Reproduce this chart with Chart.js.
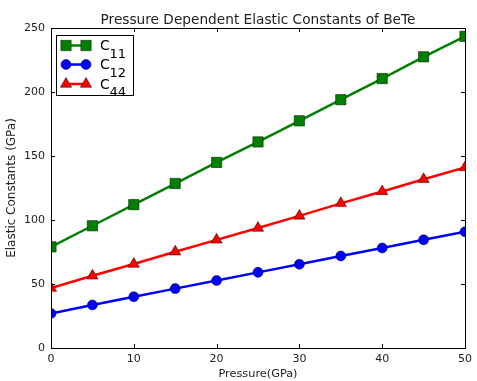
<!DOCTYPE html>
<html>
<head>
<meta charset="utf-8">
<script src="https://cdn.jsdelivr.net/npm/chart.js@4.4.1/dist/chart.umd.min.js"></script>
<style>
  html, body { margin: 0; padding: 0; background: #fff; }
  canvas { display: block; }
</style>
</head>
<body>
<canvas id="elasticChart" width="477" height="381"></canvas>
<script>
// данные
const pressure = [0, 5, 10, 15, 20, 25, 30, 35, 40, 45, 50];
const c11 = [79, 95.5, 112, 128.5, 145, 161, 177.5, 194, 210.5, 227.5, 243.5];
const c12 = [27, 33.6, 40.1, 46.4, 52.7, 59.1, 65.4, 71.9, 78.1, 84.5, 90.8];
const c44 = [46.8, 56.4, 65.6, 75.2, 84.5, 93.7, 103.2, 113, 122.3, 131.8, 141];
const xTicks = [0, 10, 20, 30, 40, 50];
const yTicks = [0, 50, 100, 150, 200, 250];
const seriesNames = ['11', '12', '44'];

const FONT = "'DejaVu Sans', sans-serif";

function toPoints(values) {
  return values.map((v, i) => ({ x: pressure[i], y: v }));
}

// рамка, тики внутрь, заголовок
const framePlugin = {
  id: 'frame',
  afterDraw(chart) {
    const { ctx, chartArea: a } = chart;
    const xs = chart.scales.x, ys = chart.scales.y;
    ctx.save();
    ctx.strokeStyle = '#000';
    ctx.lineWidth = 1;
    ctx.beginPath();
    xTicks.forEach(t => {
      const px = Math.round(xs.getPixelForValue(t)) + 0.5;
      ctx.moveTo(px, a.bottom); ctx.lineTo(px, a.bottom - 4);
      ctx.moveTo(px, a.top); ctx.lineTo(px, a.top + 4);
    });
    yTicks.forEach(t => {
      const py = Math.round(ys.getPixelForValue(t)) + 0.5;
      ctx.moveTo(a.left, py); ctx.lineTo(a.left + 4, py);
      ctx.moveTo(a.right, py); ctx.lineTo(a.right - 4, py);
    });
    ctx.stroke();
    ctx.strokeRect(Math.round(a.left) + 0.5, Math.round(a.top) + 0.5,
      Math.round(a.right - a.left), Math.round(a.bottom - a.top));

    ctx.fillStyle = '#222';
    ctx.font = '13.7px ' + FONT;
    ctx.textAlign = 'center';
    ctx.textBaseline = 'alphabetic';
    ctx.fillText('Pressure Dependent Elastic Constants of BeTe', (a.left + a.right) / 2, 24);
    ctx.restore();
  }
};

// легенда с индексами
const legendPlugin = {
  id: 'subLegend',
  afterDraw(chart) {
    const { ctx, chartArea: a } = chart;
    const bx = a.left + 5, by = a.top + 7, bw = 77, bh = 60;
    ctx.save();
    ctx.fillStyle = '#fff';
    ctx.fillRect(bx, by, bw, bh);
    ctx.strokeStyle = '#000';
    ctx.lineWidth = 1;
    ctx.strokeRect(bx + 0.5, by + 0.5, bw, bh);
    const rows = [by + 10.5, by + 29.5, by + 49];
    chart.data.datasets.forEach((ds, i) => {
      const y = rows[i];
      const x1 = bx + 10, x2 = bx + 30;
      ctx.strokeStyle = ds.borderColor;
      ctx.lineWidth = 2.5;
      ctx.beginPath();
      ctx.moveTo(x1, y); ctx.lineTo(x2, y);
      ctx.stroke();
      [x1, x2].forEach(mx => {
        ctx.fillStyle = ds.pointBackgroundColor;
        ctx.strokeStyle = '#000';
        ctx.lineWidth = 0.5;
        Chart.helpers.drawPoint(ctx, {
          pointStyle: ds.pointStyle, radius: ds.pointRadius, rotation: 0,
          borderWidth: 0.5
        }, mx, y);
      });
      ctx.fillStyle = '#000';
      ctx.textAlign = 'left';
      ctx.textBaseline = 'alphabetic';
      ctx.font = '14px ' + FONT;
      ctx.fillText('C', bx + 44, y + 4.5);
      ctx.font = '13px ' + FONT;
      ctx.fillText(seriesNames[i], bx + 53.5, y + 12);
    });
    ctx.restore();
  }
};

function makeSet(label, values, color, style, radius) {
  return {
    label: label,
    data: toPoints(values),
    borderColor: color,
    backgroundColor: color,
    pointBackgroundColor: color,
    pointBorderColor: '#000',
    pointBorderWidth: 0.5,
    pointStyle: style,
    pointRadius: radius,
    pointHoverRadius: radius,
    borderWidth: 2.5,
    tension: 0,
    clip: 0
  };
}

new Chart(document.getElementById('elasticChart'), {
  type: 'line',
  data: {
    datasets: [
      makeSet('C11', c11, '#008000', 'rect', 7.3),
      makeSet('C12', c12, '#0000ff', 'circle', 5),
      makeSet('C44', c44, '#ff0000', 'triangle', 6.5)
    ]
  },
  options: {
    responsive: false,
    animation: false,
    layout: { padding: { top: 28, left: 5, right: 7, bottom: 0 } },
    plugins: {
      legend: { display: false },
      tooltip: { enabled: false }
    },
    scales: {
      x: {
        type: 'linear',
        min: 0,
        max: 50,
        afterFit: s => { s.height = 33; },
        afterBuildTicks: s => { s.ticks = xTicks.map(v => ({ value: v })); },
        grid: { display: false, drawTicks: false },
        border: { display: false },
        ticks: { padding: 5, color: '#222', font: { family: FONT, size: 11 } },
        title: {
          display: true, text: 'Pressure(GPa)', color: '#222',
          padding: { top: 0, bottom: 0 }, font: { family: FONT, size: 11.3 }
        }
      },
      y: {
        min: 0,
        max: 250,
        afterFit: s => { s.width = 46; },
        afterBuildTicks: s => { s.ticks = yTicks.map(v => ({ value: v })); },
        grid: { display: false, drawTicks: false },
        border: { display: false },
        ticks: { padding: 6, color: '#222', font: { family: FONT, size: 11 } },
        title: {
          display: true, text: 'Elastic Constants (GPa)', color: '#222',
          padding: { top: 0, bottom: 0 }, font: { family: FONT, size: 12 }
        }
      }
    }
  },
  plugins: [framePlugin, legendPlugin]
});
</script>
</body>
</html>
